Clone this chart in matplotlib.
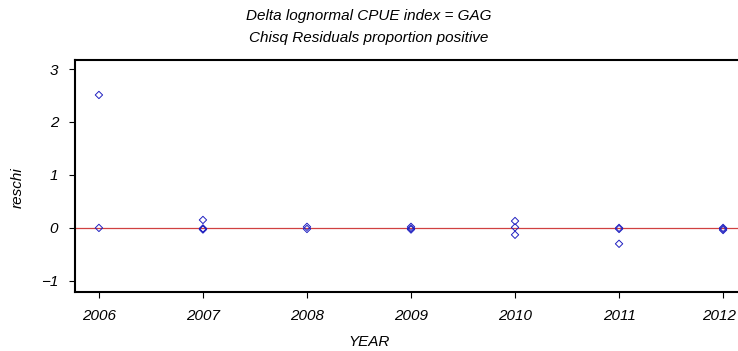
import matplotlib
matplotlib.use("Agg")
import matplotlib.pyplot as plt
import matplotlib.transforms as mtransforms

plt.rcParams['font.family'] = ['Liberation Sans Narrow', 'Liberation Sans', 'DejaVu Sans']
plt.rcParams['font.style'] = 'italic'

# chi-square residuals of the proportion-positive model, by year
years = [2006, 2006,
         2007, 2007, 2007, 2007,
         2008, 2008,
         2009, 2009, 2009,
         2010, 2010, 2010,
         2011, 2011, 2011,
         2012, 2012, 2012]
reschi = [2.51, 0.00,
          0.15, -0.01, -0.02, -0.03,
          0.02, -0.02,
          0.02, -0.01, -0.03,
          0.13, 0.01, -0.13,
          0.00, -0.02, -0.30,
          0.00, -0.02, -0.04]
year_ticks = [2006, 2007, 2008, 2009, 2010, 2011, 2012]
y_ticks = [-1, 0, 1, 2, 3]

fig = plt.figure(figsize=(7.38, 3.51), dpi=100)
# plot area runs slightly past the right edge of the image
ax = fig.add_axes([75 / 738, 1 - 292 / 351, 672 / 738, 232 / 351])

ax.axhline(0, color='#d04040', linewidth=0.9, zorder=1)
ax.scatter(years, reschi, marker='D', s=14, facecolors='none',
           edgecolors='#2020c0', linewidths=0.7, zorder=2)

ax.set_xlim(2005.77, 2012.23)
ax.set_ylim(-1.21, 3.17)
ax.set_xticks(year_ticks)
ax.set_yticks(y_ticks)
ax.set_yticklabels(['\u22121', '0', '1', '2', '3'])
ax.tick_params(direction='out', length=4, width=0.8, labelsize=11, pad=8)
for side in ['left', 'bottom', 'top']:
    ax.spines[side].set_linewidth(1.5)
ax.spines['right'].set_visible(False)

# pull the last year label in a little so it stays inside the figure
last = ax.get_xticklabels()[-1]
last.set_transform(last.get_transform() +
                   mtransforms.ScaledTranslation(-3 / 72, 0, fig.dpi_scale_trans))

# axis titles placed in figure coordinates
fig.text(369 / 738, 1 - 342 / 351, 'YEAR', ha='center', va='center', fontsize=11)
fig.text(18 / 738, 1 - 188 / 351, 'reschi', ha='center', va='center', rotation=90, fontsize=11)

fig.text(0.5, 1 - 16 / 351, 'Delta lognormal CPUE index = GAG', ha='center', va='center', fontsize=11)
fig.text(0.5, 1 - 38 / 351, 'Chisq Residuals proportion positive', ha='center', va='center', fontsize=11)

fig.savefig('out.png', dpi=100)
